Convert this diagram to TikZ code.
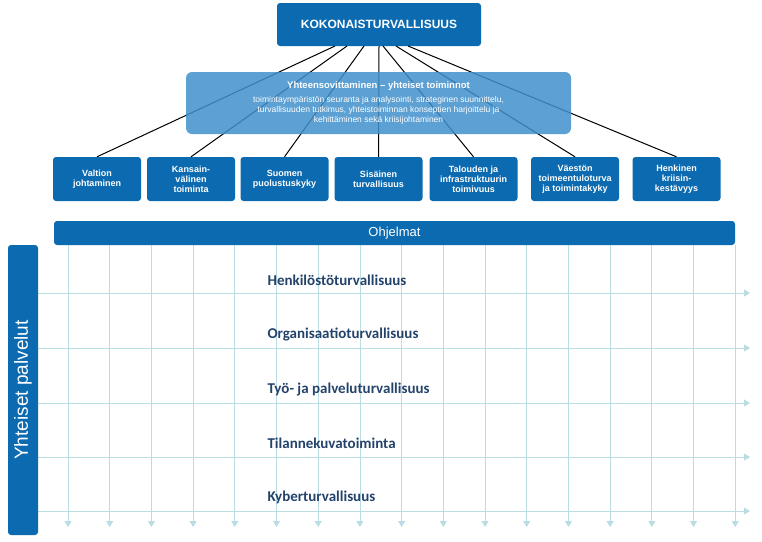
\documentclass[tikz,border=0pt]{standalone}
\usepackage{fontspec}
\setmainfont{Liberation Sans}
\newfontfamily\calib{Carlito}
\usetikzlibrary{arrows.meta}
\definecolor{kblue}{HTML}{0B6AB0}
\definecolor{klight}{HTML}{3F8FCC}
\definecolor{kgrid}{HTML}{B9DDE3}
\definecolor{ktext}{HTML}{24436B}
\tikzset{
    topbox/.style = {fill=kblue, rounded corners=3pt, text=white, font=\bfseries\fontsize{12}{14}\selectfont,
        minimum width=204pt, minimum height=43pt, inner sep=0pt},
    midbox/.style = {fill=klight, fill opacity=0.85, text opacity=1, rounded corners=6pt, text=white,
        minimum width=385pt, minimum height=62pt, align=center, inner sep=0pt},
    areabox/.style = {fill=kblue, rounded corners=3pt, text=white, align=center, inner sep=0pt,
        font=\bfseries\fontsize{9}{10}\selectfont, minimum width=88pt, minimum height=44pt},
    barbox/.style = {fill=kblue, rounded corners=3pt, text=white, inner sep=0pt},
    gridline/.style = {draw=kgrid, line width=0.8pt, -{Triangle[width=7pt,length=6pt]}},
    rowlabel/.style = {text=ktext, font=\calib\bfseries\fontsize{15}{17}\selectfont, anchor=west}
}
\begin{document}
\begin{tikzpicture}[x=1pt, y=-1pt]
    \useasboundingbox (0,0) rectangle (762,541);
    % grid
    \foreach \i in {0,...,16}{
        \coordinate (gt\i) at ({68+41.7*\i},245);
        \coordinate (gb\i) at ({68+41.7*\i},527);
        \draw [gridline] (gt\i) -- (gb\i);
    }
    \foreach \y in {293,348,403,457,511}{
        \coordinate (gl\y) at (38,\y);
        \coordinate (gr\y) at (750,\y);
        \draw [gridline] (gl\y) -- (gr\y);
    }
    % fan
    \node [topbox] (top) at (379,24.5) {KOKONAISTURVALLISUUS};
    \node [areabox] (a1) at (97,179) {Valtion\\johtaminen};
    \node [areabox] (a2) at (191,179) {Kansain-\\välinen\\toiminta};
    \node [areabox] (a3) at (284.5,179) {Suomen\\puolustuskyky};
    \node [areabox] (a4) at (378.5,179) {Sisäinen\\turvallisuus};
    \node [areabox] (a5) at (473.5,179) {Talouden ja\\infrastruktuurin\\toimivuus};
    \node [areabox] (a6) at (575,179) {Väestön\\toimeentuloturva\\ja toimintakyky};
    \node [areabox] (a7) at (676.5,179) {Henkinen\\kriisin-\\kestävyys};
    \foreach \a/\x in {1/335,2/347,3/364,4/379,5/383,6/396,7/408}{
        \coordinate (s\a) at (\x,46);
        \draw [line width=1pt] (s\a) -- (a\a.north);
    }
    \node [midbox, font=\fontsize{8.5}{10}\selectfont] (mid) at (378.5,103) {%
        \textbf{\fontsize{9.5}{12}\selectfont Yhteensovittaminen -- yhteiset toiminnot}\\[4pt]
        toimintaympäristön seuranta ja analysointi, strateginen suunnittelu,\\
        turvallisuuden tutkimus, yhteistoiminnan konseptien harjoittelu ja\\
        kehittäminen sekä kriisijohtaminen};
    % bars
    \node [barbox, minimum width=681pt, minimum height=24pt, font=\fontsize{13}{15}\selectfont] (ohj) at (394.5,233) {Ohjelmat};
    \node [barbox, minimum width=290pt, minimum height=30pt, rotate=90, font=\fontsize{19}{21}\selectfont] (yht) at (23,390) {Yhteiset palvelut};
    % rows
    \node [rowlabel] (r1) at (264,280) {Henkilöstöturvallisuus};
    \node [rowlabel] (r2) at (264,334) {Organisaatioturvallisuus};
    \node [rowlabel] (r3) at (264,389) {Työ- ja palveluturvallisuus};
    \node [rowlabel] (r4) at (264,443) {Tilannekuvatoiminta};
    \node [rowlabel] (r5) at (264,497) {Kyberturvallisuus};
\end{tikzpicture}
\end{document}
